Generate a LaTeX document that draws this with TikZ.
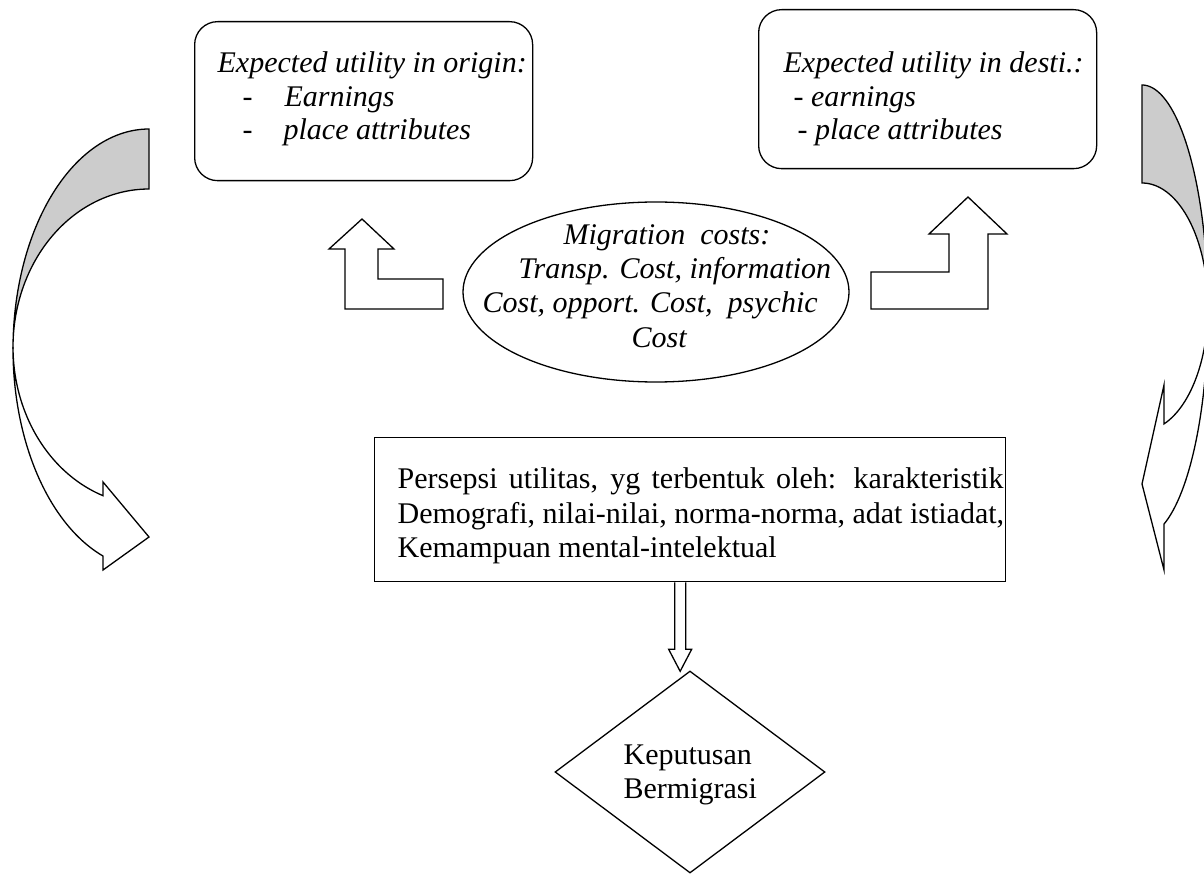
\documentclass[tikz,border=0pt]{standalone}
\usepackage{fontspec}
\setmainfont{Liberation Serif}
\usetikzlibrary{shapes.geometric,calc}
\definecolor{band}{gray}{0.8}
\begin{document}
\begin{tikzpicture}[x=1pt,y=-1pt,line width=1.3pt,
  txt/.style={anchor=base west,inner sep=0pt,font=\fontsize{30}{34.5}\selectfont},
  itxt/.style={txt,font=\fontsize{30}{34.5}\selectfont\itshape},
  ubox/.style={draw,rounded corners=23pt,anchor=north west,inner sep=0pt,minimum width=338pt,minimum height=159pt},
  blockarrow/.style={draw,fill=white,line join=miter},
  bandback/.style={draw,fill=band,line join=miter},
]
\useasboundingbox (0,0) rectangle (1204,874);

% curved block arrows at the sides
\begin{scope}
\clip (0,0) rectangle (1204,874);
% left
\path[bandback] plot[domain=270:180,samples=60] ({149+136*cos(\x)},{349+220*sin(\x)})
  -- plot[domain=180:270,samples=60] ({149+136*cos(\x)},{347+158*sin(\x)}) -- cycle;
\path[blockarrow] plot[domain=180:109.8,samples=50] ({149+136*cos(\x)},{349+220*sin(\x)})
  -- (103,570) -- (149,537) -- (103,482)
  -- plot[domain=109.8:180,samples=50] ({149+136*cos(\x)},{347+158*sin(\x)}) -- cycle;
% right
\path[bandback] plot[domain=270:360,samples=60] ({1142+66*cos(\x)},{311+226*sin(\x)})
  -- plot[domain=360:270,samples=60] ({1142+66*cos(\x)},{307+124*sin(\x)}) -- cycle;
\path[blockarrow] plot[domain=0:70.53,samples=50] ({1142+66*cos(\x)},{311+226*sin(\x)})
  -- (1164,570) -- (1142,484) -- (1164,385)
  -- plot[domain=70.53:0,samples=50] ({1142+66*cos(\x)},{307+124*sin(\x)}) -- cycle;
\end{scope}

% top boxes
\node[ubox] (orig) at (194,21) {};
\node[itxt] (o1) at (217,73) {Expected utility in origin:};
\node[itxt] (o2d) at (242,107) {-};
\node[itxt] (o2) at (284,107) {Earnings};
\node[itxt] (o3d) at (242,140) {-};
\node[itxt] (o3) at (283,140) {place attributes};

\node[ubox] (dest) at (758,9) {};
\node[itxt] (d1) at (783,73) {Expected utility in desti.:};
\node[itxt] (d2) at (793,107) {- earnings};
\node[itxt] (d3) at (797,140) {- place attributes};

% migration costs
\node[draw,ellipse,minimum width=386pt,minimum height=180pt,inner sep=0pt] (cost) at (656,292) {};
\node[itxt] (c1) at (563,245) {Migration~ costs:};
\node[itxt] (c2) at (518,279) {Transp. Cost, information};
\node[itxt] (c3) at (482,313) {Cost, opport. Cost,~ psychic};
\node[itxt] (c4) at (631,348) {Cost};

% L-shaped up arrows
\path[blockarrow] (362,219) -- (394,249) -- (378,249) -- (378,279) -- (443,279) -- (443,309)
  -- (345,309) -- (345,249) -- (329,249) -- cycle;
\path[blockarrow] (968,197) -- (1007,234) -- (988,234) -- (988,309) -- (871,309) -- (871,272)
  -- (949,272) -- (949,234) -- (929,234) -- cycle;

% perception box
\node[draw,anchor=north west,minimum width=631pt,minimum height=144pt,inner sep=0pt] (pers) at (374,437) {};
\node[txt] (p1) at (397,488) {\makebox[606pt][s]{Persepsi utilitas, yg terbentuk oleh: karakteristik}};
\node[txt] (p2) at (397,523) {Demografi, nilai-nilai, norma-norma, adat istiadat,};
\node[txt] (p3) at (397,557) {Kemampuan mental-intelektual};

% decision
\node[draw,diamond,minimum width=270pt,minimum height=202pt,inner sep=0pt] (dec) at (690,772) {};
\node[txt] (k1) at (623,764) {Keputusan};
\node[txt] (k2) at (623,798) {Bermigrasi};

% down block arrow
\path[blockarrow] ([xshift=-15.5pt]pers.south) -- ++(0,67) -- ++(-6,0) -- ++(11.5,22)
  -- ++(11.5,-22) -- ++(-6,0) -- ++(0,-67);
\end{tikzpicture}
\end{document}
